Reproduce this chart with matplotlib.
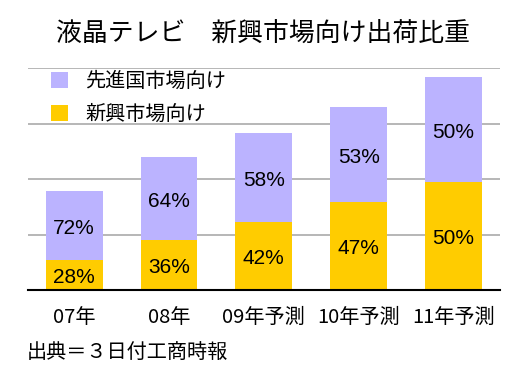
import matplotlib
matplotlib.use("Agg")
import matplotlib.pyplot as plt
from matplotlib.patches import Patch

plt.rcParams['font.family'] = ['Noto Sans CJK JP', 'DejaVu Sans']

categories = ["07年", "08年", "09年予測", "10年予測", "11年予測"]
emerging = [0.54, 0.90, 1.22, 1.59, 1.95]
developed = [1.24, 1.50, 1.61, 1.71, 1.89]
emerging_pct = ["28%", "36%", "42%", "47%", "50%"]
developed_pct = ["72%", "64%", "58%", "53%", "50%"]
series_names = ["先進国市場向け", "新興市場向け"]
title = "液晶テレビ　新興市場向け出荷比重"
source = "出典＝３日付工商時報"

purple = "#BBB3FF"
yellow = "#FFCC00"

fig = plt.figure(figsize=(5.26, 3.75), dpi=100)
ax = fig.add_axes([27.7/526, 1-290/375, (500-27.7)/526, (290-68)/375])

x = list(range(len(categories)))
ax.bar(x, emerging, width=0.6, color=yellow, zorder=3)
ax.bar(x, developed, width=0.6, bottom=emerging, color=purple, zorder=3)

pct_font = ['Liberation Sans', 'DejaVu Sans']
for i in x:
    ax.text(i, emerging[i]/2 - 0.05, emerging_pct[i], ha='center', va='center',
            fontsize=15, family=pct_font, zorder=4)
    ax.text(i, emerging[i] + developed[i]/2 - 0.05, developed_pct[i], ha='center', va='center',
            fontsize=15, family=pct_font, zorder=4)

ax.set_xlim(-0.49, 4.49)
ax.set_ylim(0, 4)
ax.set_yticks([1, 2, 3, 4])
ax.yaxis.grid(True, color="#AAAAAA", linewidth=1.2, zorder=0)
ax.set_yticklabels([])
ax.tick_params(axis='y', length=0)
ax.set_xticks(x)
ax.set_xticklabels(categories, fontsize=14.5)
ax.tick_params(axis='x', length=0, pad=12)
for s in ['top', 'right', 'left']:
    ax.spines[s].set_visible(False)
ax.spines['bottom'].set_color('black')
ax.spines['bottom'].set_linewidth(1.5)
ax.spines['bottom'].set_zorder(5)

fig.text(263/526, 1-33/375, title, ha='center', va='center', fontsize=18.6)
fig.text(27/526, 1-352/375, source, ha='left', va='center', fontsize=14.5)

handles = [Patch(facecolor=purple), Patch(facecolor=yellow)]
fig.legend(handles, series_names, loc='upper left', bbox_to_anchor=(51/526, 1-71/375),
           frameon=False, fontsize=14.5, handlelength=0.85, handleheight=0.85,
           handletextpad=0.85, labelspacing=0.6, borderpad=0, borderaxespad=0)

fig.savefig("out.png", dpi=100)
